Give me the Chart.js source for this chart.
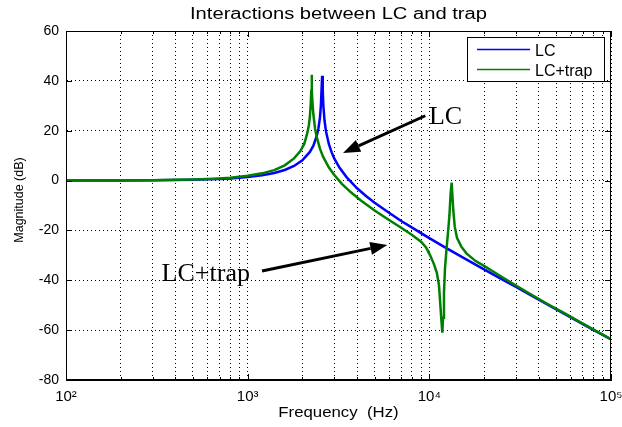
<!DOCTYPE html>
<html>
<head>
<meta charset="utf-8">
<script src="https://cdn.jsdelivr.net/npm/chart.js@4.4.0/dist/chart.umd.min.js"></script>
<style>
  html, body { margin: 0; padding: 0; background: #fff; }
  canvas { display: block; }
</style>
</head>
<body>
<canvas id="grafico" width="622" height="427"></canvas>
<script>
// datos (frecuencia en Hz, magnitud en dB)
const lcFreq = [100, 150, 200, 300, 400, 500, 600, 700, 800, 900,
    1000, 1200, 1400, 1600, 1800, 2000, 2200, 2300, 2400, 2450,
    2500, 2530, 2550, 2570, 2590, 2610, 2650, 2700, 2800, 2900,
    3000, 3200, 3500, 4000, 4500, 5000, 6000, 7000, 8000, 9000,
    10000, 12000, 15000, 20000, 25000, 30000, 40000, 50000, 60000, 70000,
    80000, 90000, 100000];
const lcMag = [0, 0.03, 0.05, 0.12, 0.21, 0.33, 0.48, 0.66, 0.87, 1.12,
    1.43, 2.14, 3.06, 4.26, 5.86, 8.1, 11.5, 14.0, 17.9, 20.8,
    25.3, 30.2, 36.2, 42, 36.1, 30.1, 24.0, 19.7, 14.6, 11.3,
    8.8, 5.2, 1.4, -3.1, -6.3, -8.9, -12.9, -16.2, -18.8, -21.1,
    -23.1, -26.5, -30.5, -35.6, -39.5, -42.7, -47.8, -51.7, -54.9, -57.6,
    -59.9, -61.9, -63.7];

const trapFreq = [100, 150, 200, 300, 400, 500, 600, 700, 800, 900,
    1000, 1200, 1400, 1600, 1800, 1950, 2050, 2120, 2170, 2200,
    2225, 2240, 2250, 2260, 2275, 2300, 2350, 2400, 2500, 2600,
    2800, 3000, 3300, 3700, 4200, 5000, 6000, 7000, 8000, 9000,
    9600, 10100, 10600, 11000, 11300, 11500, 11650, 11790, 11900, 12040,
    12200, 12450, 12700, 12900, 13100, 13270, 13400, 13550, 13800, 14200,
    15000, 16000, 18000, 20000, 23500, 28000, 35000, 45000, 55000, 70000,
    85000, 100000];
const trapMag = [0.02, 0.04, 0.07, 0.15, 0.28, 0.44, 0.64, 0.88, 1.17, 1.52,
    1.9, 2.9, 4.2, 6.1, 8.9, 11.8, 14.8, 18.5, 22, 25.5,
    31, 36, 42.4, 36, 31, 26.5, 20.8, 17.4, 12.8, 9.6,
    5.2, 2.2, -1.3, -4.7, -8.0, -12.0, -15.8, -18.9, -21.7, -24.5,
    -26.8, -30, -33.5, -37, -42, -50, -56, -61, -55, -45,
    -35, -27, -20, -14, -5, -0.8, -6, -12, -18.5, -23,
    -26.5, -29.2, -32.3, -34.2, -37.4, -40.8, -45.0, -49.6, -53.1, -57.4,
    -60.8, -63.6];

const xDecades = [100, 1000, 10000, 100000];
const xDecadeLabels = ['10²', '10³', '10⁴', '10⁵'];
const yTicks = [60, 40, 20, 0, -20, -40, -60, -80];

const seriesNames = ['LC', 'LC+trap'];
const titulo = 'Interactions between LC and trap';
const ejeX = 'Frequency  (Hz)';
const ejeY = 'Magnitude (dB)';

// anotaciones (en unidades de los ejes: Hz, dB)
const notas = [
    { text: 'LC', at: [9950, 22.6], from: [9500, 26.0], to: [3350, 11.1] },
    { text: 'LC+trap', at: [336, -40.2], from: [1200, -36.3], to: [5870, -25.8] }
];

const AZUL = '#0000ff';
const VERDE = '#008000';
const SANS = '"Liberation Sans", Arial, sans-serif';
const SERIF = '"Liberation Serif", "Times New Roman", serif';

const xTickValues = [];
for (let d = 0; d < xDecades.length; d++) {
    for (let m = 1; m <= 9; m++) {
        const v = xDecades[d] * m;
        if (v <= xDecades[xDecades.length - 1]) xTickValues.push(v);
    }
}

function texto(ctx, str, x, y, font, align, sx) {
    ctx.save();
    ctx.font = font;
    ctx.textAlign = align;
    ctx.textBaseline = 'alphabetic';
    ctx.translate(x, y);
    ctx.scale(sx || 1, 1);
    ctx.fillText(str, 0, 0);
    ctx.restore();
}

function flecha(ctx, x1, y1, x2, y2) {
    const ang = Math.atan2(y2 - y1, x2 - x1);
    const largo = 17, ancho = 13;
    const bx = x2 - largo * Math.cos(ang), by = y2 - largo * Math.sin(ang);
    ctx.lineWidth = 3;
    ctx.beginPath();
    ctx.moveTo(x1, y1);
    ctx.lineTo(bx, by);
    ctx.stroke();
    ctx.beginPath();
    ctx.moveTo(x2, y2);
    ctx.lineTo(bx + ancho / 2 * Math.sin(ang), by - ancho / 2 * Math.cos(ang));
    ctx.lineTo(bx - ancho / 2 * Math.sin(ang), by + ancho / 2 * Math.cos(ang));
    ctx.closePath();
    ctx.fill();
}

const decorado = {
    id: 'decorado',
    beforeDraw(chart) {
        const ctx = chart.ctx;
        ctx.save();
        ctx.fillStyle = '#fff';
        ctx.fillRect(0, 0, chart.width, chart.height);
        ctx.restore();
    },
    afterDraw(chart) {
        const { ctx, chartArea: a, scales } = chart;
        const x = scales.x, y = scales.y;
        ctx.save();
        ctx.strokeStyle = '#000';
        ctx.fillStyle = '#000';
        ctx.lineWidth = 1;

        // marco
        ctx.strokeRect(a.left + 0.5, a.top + 0.5, a.right - a.left - 1, a.bottom - a.top - 1);

        // marcas hacia dentro
        ctx.beginPath();
        xTickValues.forEach(v => {
            const px = Math.round(x.getPixelForValue(v)) + 0.5;
            const l = xDecades.includes(v) ? 6 : 3;
            ctx.moveTo(px, a.bottom); ctx.lineTo(px, a.bottom - l);
            ctx.moveTo(px, a.top); ctx.lineTo(px, a.top + l);
        });
        yTicks.forEach(v => {
            const py = Math.round(y.getPixelForValue(v)) + 0.5;
            ctx.moveTo(a.left, py); ctx.lineTo(a.left + 6, py);
            ctx.moveTo(a.right, py); ctx.lineTo(a.right - 6, py);
        });
        ctx.stroke();

        // leyenda
        ctx.fillStyle = '#fff';
        ctx.fillRect(467, 37, 137, 44);
        ctx.strokeRect(467.5, 37.5, 137, 44);
        [AZUL, VERDE].forEach((c, i) => {
            const ly = 49.5 + i * 20;
            ctx.strokeStyle = c;
            ctx.lineWidth = 1.3;
            ctx.beginPath();
            ctx.moveTo(477, ly); ctx.lineTo(530, ly);
            ctx.stroke();
            ctx.fillStyle = '#000';
            texto(ctx, seriesNames[i], 535, ly + 6, '16px ' + SANS, 'left');
        });

        // anotaciones
        ctx.strokeStyle = '#000';
        ctx.fillStyle = '#000';
        notas.forEach(n => {
            texto(ctx, n.text, x.getPixelForValue(n.at[0]), y.getPixelForValue(n.at[1]),
                '26px ' + SERIF, 'left');
            flecha(ctx,
                x.getPixelForValue(n.from[0]), y.getPixelForValue(n.from[1]),
                x.getPixelForValue(n.to[0]), y.getPixelForValue(n.to[1]));
        });

        // titulos
        const cx = (a.left + a.right) / 2;
        texto(ctx, titulo, cx, 19, '16px ' + SANS, 'center', 1.26);
        texto(ctx, ejeX, cx, 417, '14px ' + SANS, 'center', 1.2);
        ctx.save();
        ctx.translate(23, 200);
        ctx.rotate(-Math.PI / 2);
        texto(ctx, ejeY, 0, 0, '12.5px ' + SANS, 'center');
        ctx.restore();

        ctx.restore();
    }
};

const canvas = document.getElementById('grafico');
const datos = {
    datasets: [
        {
            label: seriesNames[0],
            data: lcFreq.map((f, i) => ({ x: f, y: lcMag[i] })),
            borderColor: AZUL,
            borderWidth: 2.5,
            pointRadius: 0,
            tension: 0,
            fill: false,
            order: 1
        },
        {
            label: seriesNames[1],
            data: trapFreq.map((f, i) => ({ x: f, y: trapMag[i] })),
            borderColor: VERDE,
            borderWidth: 2.5,
            pointRadius: 0,
            tension: 0,
            fill: false,
            order: 0
        }
    ]
};

new Chart(canvas, {
    type: 'line',
    data: datos,
    plugins: [decorado],
    options: {
        responsive: false,
        animation: false,
        devicePixelRatio: 1,
        layout: { padding: { top: 31, right: 11, left: 0, bottom: 0 } },
        plugins: {
            legend: { display: false },
            tooltip: { enabled: false }
        },
        scales: {
            x: {
                type: 'logarithmic',
                min: 100,
                max: 100000,
                afterBuildTicks: s => { s.ticks = xTickValues.map(v => ({ value: v })); },
                afterFit: s => {
                    s.height = 47;
                    s.paddingLeft = 0;
                    s.paddingRight = 0;
                },
                grid: { color: '#000', lineWidth: 1, drawTicks: false },
                border: { display: true, color: '#000', width: 1, dash: [1, 3] },
                ticks: {
                    autoSkip: false,
                    maxRotation: 0,
                    padding: 8,
                    color: '#000',
                    font: { family: SANS, size: 15 },
                    callback: v => {
                        const i = xDecades.indexOf(v);
                        return i >= 0 ? xDecadeLabels[i] : '';
                    }
                }
            },
            y: {
                type: 'linear',
                min: -80,
                max: 60,
                afterBuildTicks: s => { s.ticks = yTicks.map(v => ({ value: v })); },
                afterFit: s => {
                    s.width = 66;
                    s.paddingTop = 0;
                    s.paddingBottom = 0;
                },
                grid: { color: '#000', lineWidth: 1, drawTicks: false },
                border: { display: true, color: '#000', width: 1, dash: [1, 3] },
                ticks: {
                    padding: 7,
                    color: '#000',
                    font: { family: SANS, size: 14 },
                    callback: v => String(v)
                }
            }
        }
    }
});
</script>
</body>
</html>
